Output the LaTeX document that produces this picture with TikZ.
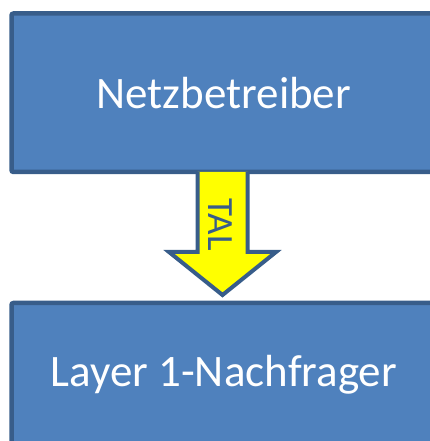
\documentclass[tikz,border=0pt]{standalone}
\usepackage{fontspec}
\setmainfont{Carlito}
\definecolor{boxfill}{HTML}{4F81BD}
\definecolor{boxline}{HTML}{385D8A}
\definecolor{arrowfill}{HTML}{FFFF00}
\begin{document}
\begin{tikzpicture}[x=1pt,y=1pt,
  bluebox/.style={draw=boxline,fill=boxfill,line width=4.5pt,rounded corners=2pt,
    rectangle,inner sep=0pt,minimum width=424.5pt,text=white,font=\fontsize{45}{54}\selectfont},
  bigarrow/.style={draw=boxline,fill=arrowfill,line width=4pt,line join=miter},
  arrowlabel/.style={text=boxline,font=\fontsize{37}{44}\selectfont,inner sep=0pt,rotate=-90}]
\useasboundingbox (0,0) rectangle (429,441);
\node[bluebox,minimum height=158.5pt] (net) at (223.75,348.25) {Netzbetreiber};
\node[bluebox,minimum height=143pt] (layer) at (223.75,66.5) {Layer 1-Nachfrager};
\draw[bigarrow] (197.5,269) -- (197.5,189) -- (169,189) -- (222.5,146) -- (276,189) -- (247.5,189) -- (247.5,269);
\node[arrowlabel] (tal) at (220.5,216.5) {TAL};
\end{tikzpicture}
\end{document}
